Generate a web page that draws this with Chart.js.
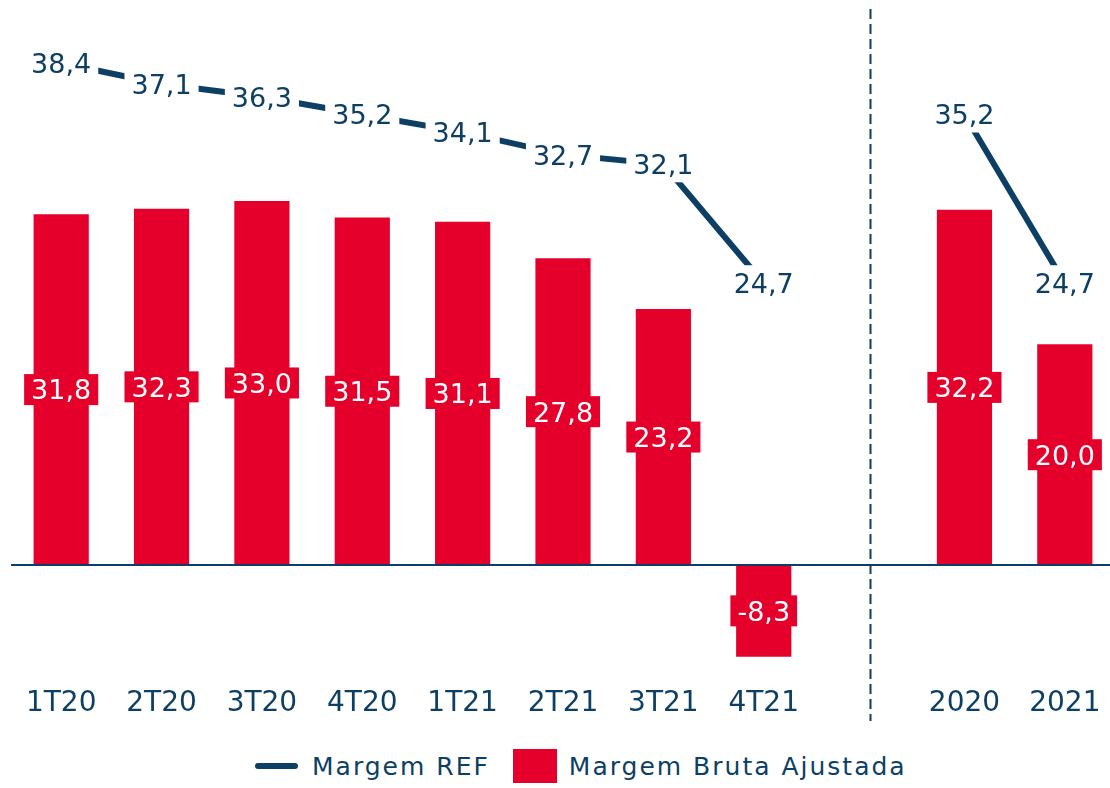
<!DOCTYPE html>
<html lang="pt">
<head>
<meta charset="utf-8">
<title>Margem REF e Margem Bruta Ajustada</title>
<script src="https://cdn.jsdelivr.net/npm/chart.js@4.4.1/dist/chart.umd.min.js"></script>
<style>
  html, body { margin: 0; padding: 0; background: #fff; overflow: hidden; }
  .wrap { position: relative; width: 1110px; height: 788px; overflow: hidden; }
  .chart-box { position: absolute; left: 0; top: 0; width: 1116px; height: 733px; }
  #legend {
    position: absolute; left: 255px; top: 749px; height: 34px;
    display: flex; align-items: center;
    font: 25px "DejaVu Sans", sans-serif; letter-spacing: 2px; color: #0c3f63;
  }
  #legend .item { display: flex; align-items: center; }
  #legend .item + .item { margin-left: 23px; }
  #legend .line { width: 43px; height: 6px; border-radius: 3px; margin-right: 14px; }
  #legend .box { width: 44px; height: 34px; margin-right: 12px; }
</style>
</head>
<body>
<div class="wrap">
  <div class="chart-box"><canvas id="chart"></canvas></div>
  <div id="legend"></div>
</div>
<script>
// categories: quarters, an empty slot, then the yearly totals
const categories = ['1T20', '2T20', '3T20', '4T20', '1T21', '2T21', '3T21', '4T21', '', '2020', '2021'];
const margemRef = [38.4, 37.1, 36.3, 35.2, 34.1, 32.7, 32.1, 24.7, null, 35.2, 24.7];
const margemBruta = [31.8, 32.3, 33.0, 31.5, 31.1, 27.8, 23.2, -8.3, null, 32.2, 20.0];
const seriesNames = ['Margem REF', 'Margem Bruta Ajustada'];

const NAVY = '#0c3f63';
const RED = '#e4002b';
const FONT = '"DejaVu Sans", sans-serif';

const fmt = v => v.toFixed(1).replace('.', ',');

Chart.defaults.font.family = FONT;
Chart.defaults.color = NAVY;

// zero line + dashed divider between quarters and years
const guides = {
    id: 'guides',
    afterDatasetsDraw(chart) {
        const {ctx, chartArea, scales: {x, y}} = chart;
        ctx.save();
        ctx.strokeStyle = NAVY;

        const y0 = y.getPixelForValue(0);
        ctx.lineWidth = 2;
        ctx.beginPath();
        ctx.moveTo(chartArea.left, y0);
        ctx.lineTo(chartArea.right, y0);
        ctx.stroke();

        // sits a touch right of the empty slot
        const xd = Math.round(x.getPixelForValue(8.06)) + 0.5;
        ctx.lineWidth = 2;
        ctx.setLineDash([10, 5]);
        ctx.beginPath();
        ctx.moveTo(xd, chartArea.top - 1);
        ctx.lineTo(xd, x.bottom - 12);
        ctx.stroke();
        ctx.restore();
    }
};

// boxed value labels: white on red for bars, navy on white for the line
const valueLabels = {
    id: 'valueLabels',
    afterDatasetsDraw(chart) {
        const ctx = chart.ctx;
        const size = 27;
        const cap = size * 0.73;
        ctx.save();
        ctx.font = `${size}px ${FONT}`;
        ctx.textAlign = 'center';
        ctx.textBaseline = 'alphabetic';
        chart.data.datasets.forEach((ds, i) => {
            const meta = chart.getDatasetMeta(i);
            meta.data.forEach((el, j) => {
                const v = ds.data[j];
                if (v == null) return;
                const txt = fmt(v);
                const w = ctx.measureText(txt).width;
                const isBar = meta.type === 'bar';
                const cx = el.x;
                const cy = isBar ? (el.y + el.base) / 2 : el.y;
                const h = isBar ? 31 : 36;
                ctx.fillStyle = isBar ? RED : '#fff';
                ctx.fillRect(cx - w / 2 - 7, cy - h / 2, w + 14, h);
                ctx.fillStyle = isBar ? '#fff' : NAVY;
                ctx.fillText(txt, cx, cy + cap / 2);
            });
        });
        ctx.restore();
    }
};

const chart = new Chart(document.getElementById('chart').getContext('2d'), {
    type: 'bar',
    data: {
        labels: categories,
        datasets: [
            {
                type: 'line',
                label: seriesNames[0],
                data: margemRef,
                yAxisID: 'y2',
                borderColor: NAVY,
                backgroundColor: NAVY,
                borderWidth: 6,
                pointRadius: 0,
                tension: 0,
                spanGaps: false,
                order: 0
            },
            {
                type: 'bar',
                label: seriesNames[1],
                data: margemBruta,
                yAxisID: 'y',
                backgroundColor: RED,
                barPercentage: 0.55,
                categoryPercentage: 1,
                order: 1
            }
        ]
    },
    options: {
        responsive: true,
        maintainAspectRatio: false,
        animation: false,
        layout: {padding: {left: 11, right: 1, top: 10, bottom: 0}},
        plugins: {
            legend: {display: false},
            tooltip: {enabled: false}
        },
        scales: {
            x: {
                grid: {display: false, drawTicks: false},
                border: {display: false},
                ticks: {color: NAVY, font: {size: 28}, padding: 12, maxRotation: 0, autoSkip: false}
            },
            y: {display: false, min: -10, max: 50.3},
            y2: {display: false, min: 0.3, max: 41.7}
        }
    },
    plugins: [guides, valueLabels]
});

// html legend built from the datasets
const legendEl = document.getElementById('legend');
chart.data.datasets.forEach(ds => {
    const item = document.createElement('span');
    item.className = 'item';
    const mark = document.createElement('span');
    mark.className = ds.type === 'line' ? 'line' : 'box';
    mark.style.background = ds.type === 'line' ? ds.borderColor : ds.backgroundColor;
    const text = document.createElement('span');
    text.textContent = ds.label;
    item.append(mark, text);
    legendEl.append(item);
});
</script>
</body>
</html>
